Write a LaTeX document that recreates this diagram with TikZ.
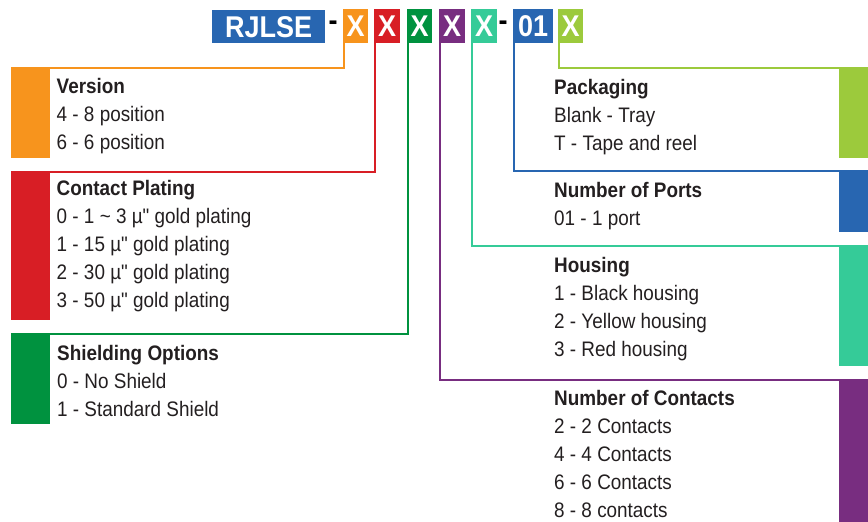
\documentclass[tikz,border=0pt]{standalone}
\usepackage{fontspec}
\setmainfont{Liberation Sans}[FakeStretch=0.9,Ligatures=TeXOff]
\definecolor{cblue}{HTML}{2866B1}
\definecolor{corange}{HTML}{F7941D}
\definecolor{cred}{HTML}{D81E25}
\definecolor{cgreen}{HTML}{00923F}
\definecolor{cpurple}{HTML}{782D80}
\definecolor{cteal}{HTML}{35CB98}
\definecolor{clime}{HTML}{9CCA3C}
\definecolor{ctext}{HTML}{231F20}
\begin{document}
\begin{tikzpicture}[x=1pt,y=-1pt,
  hdr/.style={anchor=north west,inner sep=0pt,minimum height=34pt,text=white,
    font=\fontsize{30}{34}\selectfont\bfseries},
  dashtxt/.style={inner sep=0pt,text=black,font=\fontsize{30}{34}\selectfont\bfseries},
  bar/.style={anchor=north west,inner sep=0pt,draw=none},
  conn/.style={line width=2pt},
  ttl/.style={anchor=base west,inner sep=0pt,text=ctext,font=\fontsize{21}{24}\selectfont\bfseries},
  itm/.style={anchor=base west,inner sep=0pt,text=ctext,font=\fontsize{21}{24}\selectfont}]
\useasboundingbox (0,0) rectangle (868,522);

% header
\node[hdr,fill=cblue,minimum width=113pt,minimum height=33pt] (rj) at (212,10) {RJLSE};
\node[dashtxt] (d1) at (333,26) {-};
\node[hdr,fill=corange,minimum width=25pt] (xo) at (343,9) {X};
\node[hdr,fill=cred,minimum width=26pt] (xr) at (374,9) {X};
\node[hdr,fill=cgreen,minimum width=25pt] (xg) at (407,9) {X};
\node[hdr,fill=cpurple,minimum width=26pt] (xp) at (439,9) {X};
\node[hdr,fill=cteal,minimum width=26pt] (xt) at (471,9) {X};
\node[dashtxt] (d2) at (503,26) {-};
\node[hdr,fill=cblue,minimum width=40pt] (xb) at (513,9) {01};
\node[hdr,fill=clime,minimum width=25pt] (xl) at (558,9) {X};

% colour bars
\node[bar,fill=corange,minimum width=39pt,minimum height=89pt] (bo) at (11,69) {};
\node[bar,fill=cred,minimum width=39pt,minimum height=147pt] (br) at (11,173) {};
\node[bar,fill=cgreen,minimum width=39pt,minimum height=89pt] (bg) at (11,335) {};
\node[bar,fill=clime,minimum width=29pt,minimum height=89pt] (bl) at (839,69) {};
\node[bar,fill=cblue,minimum width=29pt,minimum height=60pt] (bb) at (839,172) {};
\node[bar,fill=cteal,minimum width=29pt,minimum height=119pt] (bt) at (839,247) {};
\node[bar,fill=cpurple,minimum width=29pt,minimum height=141pt] (bp) at (839,381) {};

% connectors
\draw[conn,corange] ([xshift=1pt]xo.south west) |- ([yshift=1pt]bo.north west);
\draw[conn,cred] ([xshift=1pt]xr.south west) |- ([yshift=1pt]br.north west);
\draw[conn,cgreen] ([xshift=1pt]xg.south west) |- ([yshift=1pt]bg.north west);
\draw[conn,cpurple] ([xshift=1pt]xp.south west) |- ([yshift=1pt]bp.north east);
\draw[conn,cteal] ([xshift=1pt]xt.south west) |- ([yshift=1pt]bt.north east);
\draw[conn,cblue] ([xshift=1pt]xb.south west) |- ([yshift=1pt]bb.north east);
\draw[conn,clime] ([xshift=1pt]xl.south west) |- ([yshift=1pt]bl.north east);

% texts left
\node[ttl] (tv) at (56.5,93) {Version};
\foreach \t [count=\i] in {4 - 8 position,6 - 6 position}
  \node[itm] (tv\i) at (56.5,93+28.3*\i) {\t};
\node[ttl] (tc) at (56.5,195) {Contact Plating};
\foreach \t [count=\i] in {0 - 1 \textasciitilde{} 3 µ" gold plating,1 - 15 µ" gold plating,2 - 30 µ" gold plating,3 - 50 µ" gold plating}
  \node[itm] (tc\i) at (56.5,195+28.2*\i) {\t};
\node[ttl] (ts) at (57,360.5) {Shielding Options};
\foreach \t [count=\i] in {0 - No Shield,1 - Standard Shield}
  \node[itm] (ts\i) at (57,360.5+27.8*\i) {\t};

% texts right
\node[ttl] (tk) at (554,94) {Packaging};
\foreach \t [count=\i] in {Blank - Tray,T - Tape and reel}
  \node[itm] (tk\i) at (554,94+28*\i) {\t};
\node[ttl] (tn) at (554,197.5) {Number of Ports};
\node[itm] (tn1) at (554,225.5) {01 - 1 port};
\node[ttl] (th) at (554,272.5) {Housing};
\foreach \t [count=\i] in {1 - Black housing,2 - Yellow housing,3 - Red housing}
  \node[itm] (th\i) at (554,272.5+28*\i) {\t};
\node[ttl] (tx) at (554,405) {Number of Contacts};
\foreach \t [count=\i] in {2 - 2 Contacts,4 - 4 Contacts,6 - 6 Contacts,8 - 8 contacts}
  \node[itm] (tx\i) at (554,405+28*\i) {\t};
\end{tikzpicture}
\end{document}
